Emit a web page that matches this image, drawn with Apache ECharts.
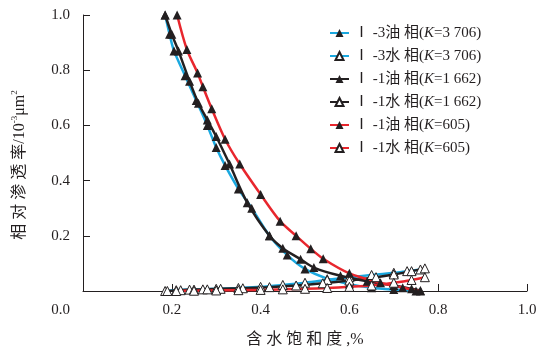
<!DOCTYPE html>
<html><head><meta charset="utf-8">
<script src="https://cdn.jsdelivr.net/npm/echarts@6/dist/echarts.min.js"></script>
<style>html,body{margin:0;padding:0;background:#fff}#c{width:541px;height:353px}</style>
</head><body><div id="c"></div>
<script>
// ---- data ----
var seriesNames = ['Ⅰ-3油相(K=3 706)','Ⅰ-3水相(K=3 706)','Ⅰ-1油相(K=1 662)','Ⅰ-1水相(K=1 662)','Ⅰ-1油相(K=605)','Ⅰ-1水相(K=605)'];
var xTicks = [0, 0.2, 0.4, 0.6, 0.8, 1.0];
var yTicks = [0, 0.2, 0.4, 0.6, 0.8, 1.0];

var swOil3706 = [0.185,0.195,0.205,0.23,0.255,0.28,0.30,0.32,0.35,0.38,0.42,0.46,0.50,0.55,0.60,0.65,0.70,0.75];
var kroOil3706 = [1.0,0.93,0.87,0.78,0.69,0.60,0.52,0.455,0.37,0.30,0.20,0.13,0.08,0.045,0.025,0.012,0.005,0.0];
var swWat3706 = [0.185,0.21,0.24,0.27,0.30,0.35,0.40,0.45,0.50,0.55,0.60,0.65,0.70,0.73,0.76];
var krwWat3706 = [0.0,0.003,0.005,0.006,0.008,0.011,0.015,0.022,0.03,0.04,0.05,0.058,0.066,0.072,0.078];

var swOil1662 = [0.185,0.20,0.215,0.24,0.26,0.28,0.30,0.33,0.37,0.42,0.45,0.49,0.52,0.58,0.64,0.70,0.74,0.76];
var kroOil1662 = [1.0,0.93,0.87,0.76,0.68,0.62,0.56,0.46,0.32,0.20,0.155,0.115,0.085,0.055,0.035,0.02,0.008,0.002];
var swWat1662 = [0.19,0.22,0.25,0.28,0.31,0.36,0.42,0.48,0.54,0.60,0.66,0.70,0.74,0.77];
var krwWat1662 = [0.0,0.003,0.005,0.006,0.008,0.01,0.014,0.02,0.028,0.038,0.05,0.06,0.072,0.082];

var swOil605 = [0.212,0.234,0.258,0.27,0.29,0.32,0.353,0.40,0.444,0.48,0.513,0.541,0.60,0.67,0.72,0.76];
var kroOil605 = [1.0,0.875,0.79,0.74,0.66,0.55,0.46,0.35,0.253,0.20,0.153,0.117,0.064,0.03,0.012,0.0];
var swWat605 = [0.21,0.25,0.30,0.35,0.40,0.45,0.50,0.55,0.60,0.65,0.70,0.74,0.77];
var krwWat605 = [0.0,0.001,0.002,0.003,0.004,0.006,0.008,0.011,0.015,0.02,0.03,0.04,0.05];

function zip(a,b){return a.map(function(v,i){return [v,b[i]];});}

var CYAN='#1aa8df', BLACK='#231f20', RED='#e8262d';
var serif='"Liberation Serif","Noto Sans CJK SC",serif';

function mk(name, color, xs, ys, filled){
  return {
    name:name, type:'line', smooth:0.3, clip:false,
    data: zip(xs,ys),
    symbol:'triangle', symbolSize:9,
    lineStyle:{color:color, width:2.5},
    itemStyle:{color: filled?BLACK:'#ffffff', borderColor:BLACK, borderWidth: filled?0:1},
    color: color
  };
}

var chart = echarts.init(document.getElementById('c'), null, {renderer:'canvas'});
chart.setOption({
  animation:false,
  backgroundColor:'#fff',
  grid:{left:83, right:14, top:15, bottom:57},
  legend:{
    orient:'vertical', left:329, top:25, padding:0,
    itemWidth:19, itemHeight:10, itemGap:7,
    data: seriesNames,
    textStyle:{fontFamily:serif, fontSize:15, color:'#231f20', lineHeight:16,
      rich:{i:{fontFamily:serif, fontStyle:'italic', fontSize:15}}},
    formatter:function(n){return n.replace('Ⅰ','Ⅰ ').replace('油相','油 相').replace('水相','水 相').replace('K','{i|K}');}
  },
  xAxis:{
    type:'value', min:0, max:1, interval:0.2,
    name:'含 水 饱 和 度 ,%', nameLocation:'middle', nameGap:41,
    nameTextStyle:{fontFamily:serif, fontSize:16, color:'#231f20'},
    axisLine:{lineStyle:{color:BLACK, width:1}},
    axisTick:{inside:true, length:7, lineStyle:{color:BLACK}},
    axisLabel:{margin:12, fontFamily:serif, fontSize:15, color:'#231f20',
      formatter:function(v){return v===0?'':v.toFixed(1);}},
    splitLine:{show:false}
  },
  yAxis:{
    type:'value', min:0, max:1, interval:0.2,
    name:'相 对 渗 透 率/10{sup|-3}μm{sup|2}', nameLocation:'middle', nameGap:54,
    nameTextStyle:{fontFamily:serif, fontSize:16, color:'#231f20', padding:[0,24,0,0],
      rich:{sup:{fontFamily:serif, fontSize:9, padding:[0,0,10,0], color:'#231f20'}}},
    axisLine:{show:true, lineStyle:{color:BLACK, width:1}},
    axisTick:{show:true, inside:true, length:7, lineStyle:{color:BLACK}},
    axisLabel:{margin:13, fontFamily:serif, fontSize:15, color:'#231f20', lineHeight:19,
      formatter:function(v){return v===0?'\n\n0.0':v.toFixed(1);}},
    splitLine:{show:false}
  },
  series:[
    mk(seriesNames[0], CYAN, swOil3706, kroOil3706, true),
    mk(seriesNames[1], CYAN, swWat3706, krwWat3706, false),
    mk(seriesNames[2], BLACK, swOil1662, kroOil1662, true),
    mk(seriesNames[3], BLACK, swWat1662, krwWat1662, false),
    mk(seriesNames[4], RED, swOil605, kroOil605, true),
    mk(seriesNames[5], RED, swWat605, krwWat605, false)
  ]
});
</script></body></html>
